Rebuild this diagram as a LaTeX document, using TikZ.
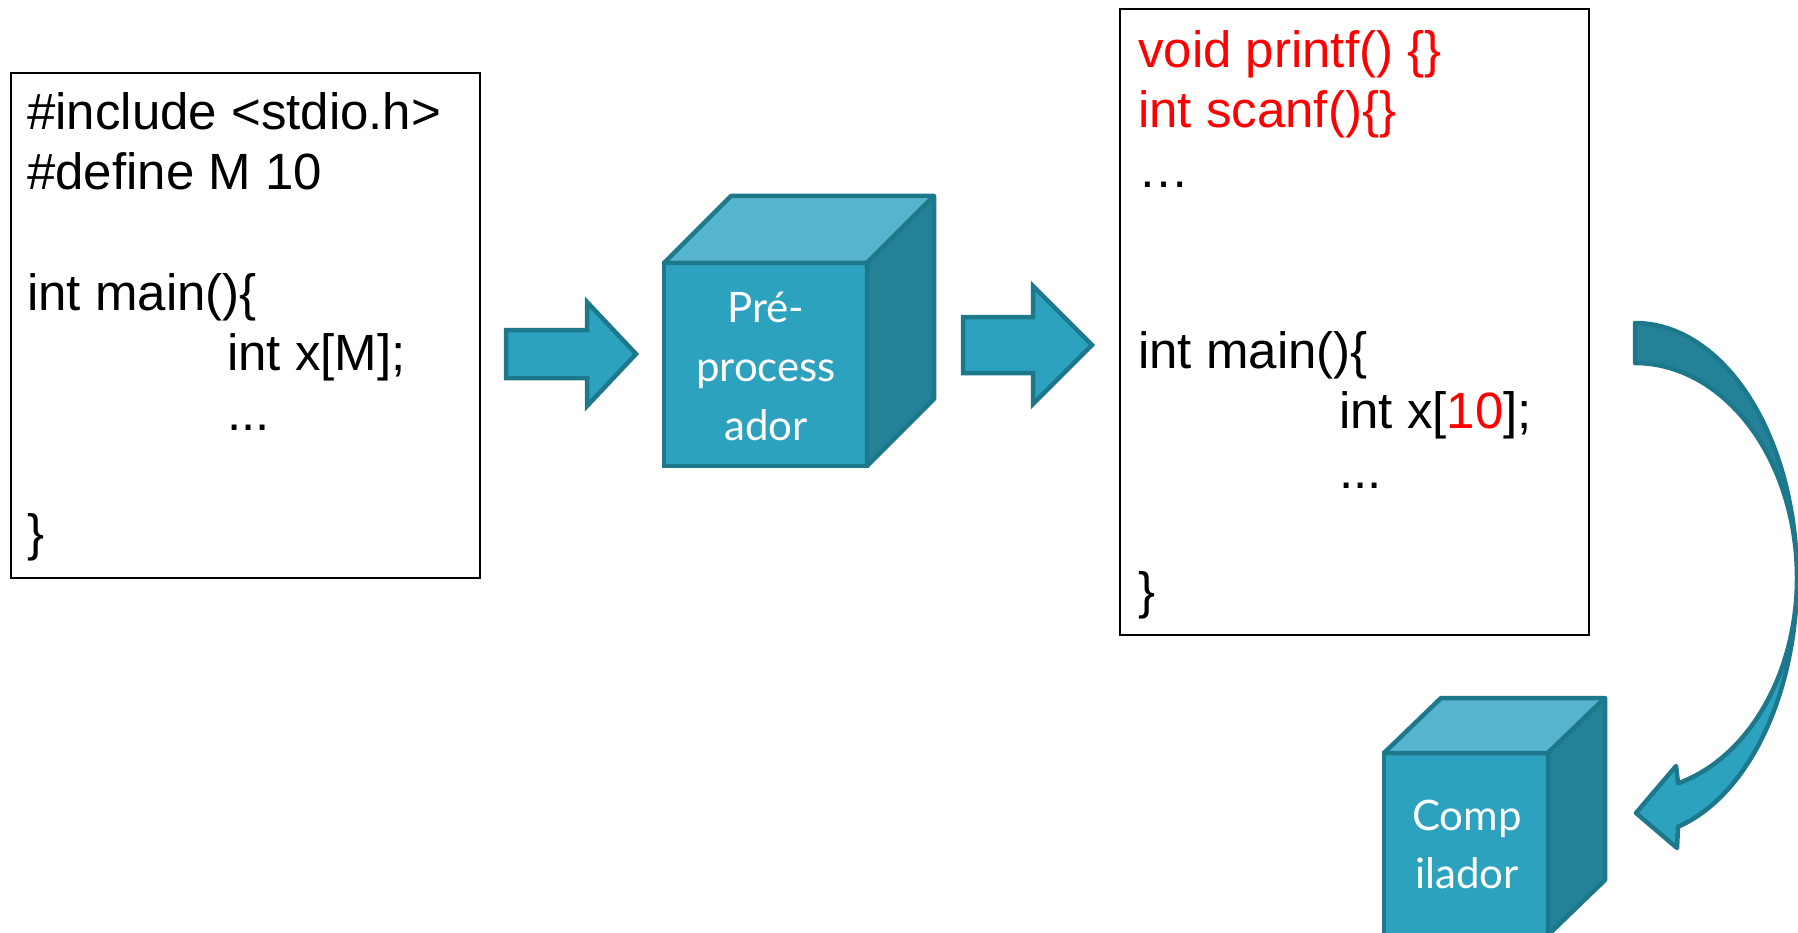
\documentclass[tikz,border=0pt]{standalone}
\usepackage{fontspec}
\setmainfont{Liberation Sans}
\newfontfamily\cubefont{Lato}

\definecolor{facefront}{HTML}{2CA2BF}
\definecolor{facetop}{HTML}{56B4CE}
\definecolor{faceside}{HTML}{238297}
\definecolor{edgeteal}{HTML}{1E788C}

\begin{document}
\begin{tikzpicture}[x=1pt,y=-1pt,
  codebox/.style={draw=black,line width=2.5pt,inner sep=0pt,outer sep=0pt,anchor=north west},
  code/.style={anchor=base west,inner sep=0pt,font=\fontsize{51}{60}\selectfont},
  hot/.style={text=red},
  cubefront/.style={fill=facefront,draw=edgeteal,line width=4.5pt,inner sep=0pt,outer sep=0pt,anchor=north west},
  cubetop/.style={fill=facetop,draw=edgeteal,line width=4.5pt,line join=round},
  cubeside/.style={fill=faceside,draw=edgeteal,line width=4.5pt,line join=round},
  cubelabel/.style={anchor=base,inner sep=0pt,text=white,font=\cubefont\fontsize{42}{50}\selectfont},
  blockarrow/.style={fill=facefront,draw=edgeteal,line width=4.5pt,line join=miter},
  backarrow/.style={fill=faceside,draw=edgeteal,line width=4.5pt,line join=round},
]
% canvas
\fill[white] (0,0) rectangle (1798,933);
\useasboundingbox (0,0) rectangle (1798,933);

% ---------- source file ----------
\node[codebox,minimum width=469,minimum height=505] (src) at (11,73) {};
\node[code] (s1) at (27,130) {\#include <stdio.h>};
\node[code] (s2) at (27,190) {\#define M 10};
\node[code] (s3) at (27,310) {int main()\{};
\node[code] (s4) at (227,370) {int x[M];};
\node[code] (s5) at (227,430) {...};
\node[code] (s6) at (27,550) {\}};

% ---------- arrow 1 ----------
\coordinate (a1) at (506,354);
\draw[blockarrow] (a1) ++(0,-24) -- ++(81,0) -- ++(0,-28) -- (636,354)
  -- (587,406) -- ++(0,-28) -- ++(-81,0) -- cycle;

% ---------- preprocessor cube ----------
\node[cubefront,minimum width=203,minimum height=203] (pre) at (664,263) {};
\draw[cubetop] (pre.north west) -- ++(67,-67) -- ++(203,0) -- (pre.north east) -- cycle;
\draw[cubeside] (pre.north east) -- ++(67,-67) -- ++(0,203) -- (pre.south east) -- cycle;
\node[cubelabel] (p1) at (766,322) {Pré-};
\node[cubelabel] (p2) at (766,381) {process};
\node[cubelabel] (p3) at (766,440) {ador};

% ---------- arrow 2 ----------
\coordinate (a2) at (963,345);
\draw[blockarrow] (a2) ++(0,-28) -- ++(70,0) -- ++(0,-31) -- (1092,345)
  -- (1033,404) -- ++(0,-31) -- ++(-70,0) -- cycle;

% ---------- preprocessed file ----------
\node[codebox,minimum width=469,minimum height=626] (out) at (1120,9) {};
\node[code,hot] (o1) at (1138,68) {void printf() \{\}};
\node[code,hot] (o2) at (1138,128) {int scanf()\{\}};
\node[code] (o3) at (1138,188) {…};
\node[code] (o4) at (1138,368) {int main()\{};
\node[code] (o5) at (1339,428) {int x[{\color{red}10}];};
\node[code] (o6) at (1339,488) {...};
\node[code] (o7) at (1138,608) {\}};

% ---------- curved arrow to the compiler ----------
\filldraw[backarrow]
  plot[domain=-90:0,samples=60] ({1635+162*cos(\x)},{578+255*sin(\x)})
  -- plot[domain=0:-90,samples=60] ({1635+162*cos(\x)},{578+215*sin(\x)})
  -- cycle;
\filldraw[blockarrow,line join=round]
  plot[domain=0:74.6,samples=60] ({1635+162*cos(\x)},{578+258*sin(\x)})
  -- (1677,848) -- (1636,813) -- (1676,766) -- (1678,783)
  -- plot[domain=74.6:0,samples=60] ({1635+162*cos(\x)},{578+213*sin(\x)})
  -- cycle;

% ---------- compiler cube ----------
\node[cubefront,minimum width=164,minimum height=182] (comp) at (1384,753) {};
\draw[cubetop] (comp.north west) -- ++(57,-55) -- ++(164,0) -- (comp.north east) -- cycle;
\draw[cubeside] (comp.north east) -- ++(57,-55) -- ++(0,182) -- (comp.south east) -- cycle;
\node[cubelabel] (c1) at (1467,830) {Comp};
\node[cubelabel] (c2) at (1467,888) {ilador};
\end{tikzpicture}
\end{document}
